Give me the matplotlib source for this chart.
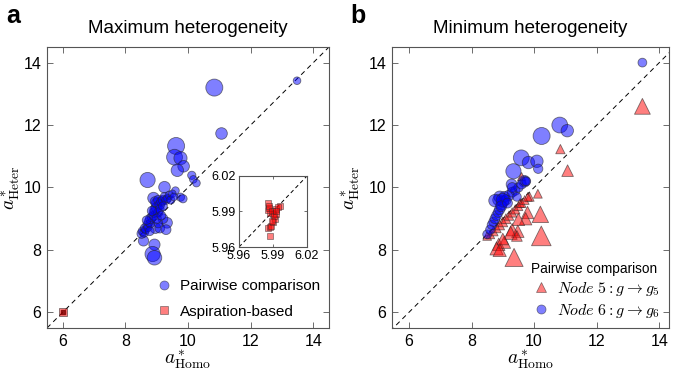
import numpy as np
import matplotlib
matplotlib.use("Agg")
import matplotlib.pyplot as plt
from matplotlib.lines import Line2D

plt.rcParams['font.family'] = ['Liberation Sans', 'DejaVu Sans']
plt.rcParams['mathtext.fontset'] = 'cm'

# ---------------- Data ----------------
# Panel a: maximum heterogeneity, pairwise comparison (x, y, marker area)
a_pc_x = [13.48, 10.84, 11.07, 9.62, 9.57, 9.76, 9.86, 9.66, 10.12, 10.17, 10.27,
          8.71, 9.25, 9.60, 9.76, 9.84, 8.90, 9.33, 9.20, 8.96, 9.10, 8.58, 8.93,
          8.87, 8.93, 9.30, 9.05,
          8.52, 8.55, 8.60, 8.62, 8.65, 8.70, 8.72, 8.75, 8.80, 8.80, 8.85, 8.90,
          8.92, 8.95, 9.00, 9.00, 8.95, 9.05, 9.10, 9.15, 9.20, 9.25, 9.30, 9.35,
          9.40, 9.45, 9.50, 9.55, 9.05, 9.10, 9.20, 9.00, 9.15, 8.85, 8.68, 8.78]
a_pc_y = [13.42, 13.20, 11.73, 11.33, 10.97, 10.94, 10.68, 10.55, 10.39, 10.26, 10.14,
          10.24, 10.01, 9.90, 9.69, 9.64, 9.66, 8.87, 9.00, 8.70, 8.70, 8.29, 8.17,
          7.87, 7.75, 8.65, 8.85,
          8.52, 8.60, 8.55, 8.70, 8.65, 8.80, 8.72, 8.90, 8.85, 9.00, 9.05, 9.10,
          9.20, 9.30, 9.35, 9.50, 9.55, 9.60, 9.45, 9.55, 9.60, 9.70, 9.60, 9.65,
          9.75, 9.60, 9.80, 9.70, 9.20, 9.30, 9.40, 9.00, 9.10, 9.25, 8.95, 8.60]
a_pc_s = [30, 150, 70, 150, 130, 90, 70, 80, 35, 30, 30,
          120, 70, 30, 35, 35, 70, 60, 50, 60, 50, 55, 65,
          120, 110, 50, 40,
          45, 40, 40, 40, 35, 40, 35, 45, 40, 50, 45, 45,
          50, 55, 60, 55, 50, 45, 50, 45, 45, 40, 40, 35,
          35, 35, 30, 30, 45, 40, 40, 45, 40, 45, 40, 40]

# Panel a: aspiration-based (inset values)
a_ab_x = [5.987, 5.986, 5.987, 5.9885, 5.990, 5.9915, 5.993, 5.990, 5.987, 5.9855,
          5.9865, 5.993, 5.996, 5.9945, 5.986, 5.9865, 5.9895, 5.9905, 5.9925, 5.9895]
a_ab_y = [5.969, 5.976, 5.977, 5.978, 5.981, 5.984, 5.988, 5.988, 5.989, 5.991,
          5.993, 5.992, 5.995, 5.994, 5.997, 5.995, 5.990, 5.986, 5.990, 5.982]

# Panel b: minimum heterogeneity
b_n6_x = [13.46, 10.24, 10.82, 11.06, 9.59, 9.82, 10.09, 10.13, 9.34, 9.69, 9.28,
          8.50, 8.60, 8.65, 8.70, 8.75, 8.80, 8.85, 8.90, 8.95, 9.00, 8.85, 8.90,
          9.05, 9.10, 9.20, 9.30, 9.40, 9.50, 9.60, 9.70, 9.75, 8.75, 9.30, 9.00,
          8.95, 9.15, 9.45]
b_n6_y = [14.00, 11.65, 12.00, 11.82, 10.95, 10.80, 10.84, 10.60, 10.52, 10.20, 10.10,
          8.50, 8.65, 8.80, 8.90, 9.00, 9.10, 9.20, 9.30, 9.45, 9.55, 9.60, 9.70,
          9.70, 9.60, 9.75, 9.85, 9.90, 10.00, 10.10, 10.20, 10.20, 9.58, 10.00, 9.60,
          9.40, 9.50, 9.70]
b_n6_s = [40, 150, 130, 80, 130, 80, 80, 45, 120, 70, 60,
          40, 45, 45, 45, 50, 50, 50, 55, 60, 70, 60, 70,
          60, 55, 55, 50, 45, 45, 45, 45, 40, 80, 50, 90,
          60, 50, 40]

b_n5_x = [13.46, 10.84, 11.07, 10.12, 9.86, 10.20, 9.79, 9.73, 10.23, 9.36, 9.48,
          9.30, 9.50, 8.87, 9.05, 8.80, 9.55, 9.60,
          8.50, 8.60, 8.70, 8.80, 8.90, 9.00, 9.10, 9.20, 9.30, 9.40, 9.50, 9.60,
          9.70, 9.80, 8.90, 9.25, 9.45, 9.00]
b_n5_y = [12.60, 11.23, 10.54, 9.80, 9.70, 9.14, 9.20, 9.00, 8.45, 7.76, 8.60,
          8.65, 8.98, 8.18, 8.25, 8.05, 9.50, 10.35,
          8.45, 8.50, 8.60, 8.70, 8.80, 8.90, 9.00, 9.10, 9.20, 9.30, 9.40, 9.50,
          9.60, 9.70, 8.00, 8.55, 8.45, 8.35]
b_n5_s = [130, 45, 70, 40, 40, 140, 80, 80, 200, 170, 80,
          80, 80, 80, 80, 90, 40, 35,
          40, 40, 45, 45, 50, 50, 50, 45, 45, 45, 40, 40,
          40, 40, 90, 90, 60, 70]

ticks = [6, 8, 10, 12, 14]

# ---------------- Figure ----------------
W, H = 675, 374
fig = plt.figure(figsize=(W / 100, H / 100), dpi=100)

blue = (0.0, 0.0, 1.0, 0.5)
red = (1.0, 0.0, 0.0, 0.5)
edge = (0.15, 0.15, 0.15, 0.6)


def frac(x0, y0, x1, y1):
    return [x0 / W, 1 - y1 / H, (x1 - x0) / W, (y1 - y0) / H]


def style(ax, xl, yl, tks, ls=11.5):
    ax.set_xlim(*xl)
    ax.set_ylim(*yl)
    ax.set_xticks(tks)
    ax.set_yticks(tks)
    ax.tick_params(direction='in', top=True, right=True, length=4,
                   width=0.6, color='#555555', labelsize=ls, pad=4)
    for sp in ax.spines.values():
        sp.set_color('#555555')
        sp.set_linewidth(0.8)


# Panel a
axa = fig.add_axes(frac(47, 47, 329, 328))
style(axa, (5.5, 14.5), (5.5, 14.5), ticks)
axa.plot([5.5, 14.5], [5.5, 14.5], '--', color='black', lw=0.7, dashes=(5, 4))
axa.scatter(a_pc_x, a_pc_y, s=a_pc_s, color=blue, edgecolors=edge, linewidths=0.6,
            zorder=3)
axa.scatter([6.0], [6.0], s=30, marker='s', color=red, edgecolors=edge,
            linewidths=0.6, zorder=3)
axa.scatter([6.0], [6.0], s=12, marker='s', color=(0.5, 0, 0, 0.8), zorder=3)
ha = [Line2D([], [], ls='none', marker='o', ms=6.5, mfc=blue, mec=edge, mew=0.5,
             label='Pairwise comparison'),
      Line2D([], [], ls='none', marker='s', ms=6, mfc=red, mec=edge, mew=0.5,
             label='Aspiration-based')]
axa.set_title('Maximum heterogeneity', fontsize=13.5, pad=10)
axa.set_xlabel(r'$a^*_{\rm Homo}$', fontsize=14, labelpad=0)
axa.set_ylabel(r'$a^*_{\rm Heter}$', fontsize=14)
axa.yaxis.set_label_coords(-0.085, 0.5)
axa.legend(handles=ha, loc='lower right', frameon=False, fontsize=11, handletextpad=0.4,
           borderaxespad=0.2, labelspacing=0.75, handlelength=1.2,
           bbox_to_anchor=(1.0, 0.0))
fig.text(6 / W, 1 - 16 / H, 'a', fontsize=18, fontweight='bold', va='center')

# inset
axi = fig.add_axes(frac(239, 176, 307, 247))
style(axi, (5.96, 6.02), (5.96, 6.02), [5.96, 5.99, 6.02], ls=9)
axi.tick_params(length=2, pad=2)
axi.set_xticklabels(['5.96', '5.99', '6.02'])
axi.set_yticklabels(['5.96', '5.99', '6.02'])
axi.plot([5.96, 6.02], [5.96, 6.02], '--', color='black', lw=0.7, dashes=(4, 3))
axi.scatter(a_ab_x, a_ab_y, s=20, marker='s', color=red, edgecolors=edge,
            linewidths=0.5, zorder=3)

# Panel b
axb = fig.add_axes(frac(392, 47, 669, 328))
style(axb, (5.46, 14.31), (5.5, 14.5), ticks)
axb.plot([5.0, 15.0], [5.0, 15.0], '--', color='black', lw=0.7, dashes=(5, 4))
axb.scatter(b_n5_x, b_n5_y, s=b_n5_s, marker='^', color=red, edgecolors=edge,
            linewidths=0.6, zorder=3)
axb.scatter(b_n6_x, b_n6_y, s=b_n6_s, marker='o', color=blue, edgecolors=edge,
            linewidths=0.6, zorder=4)
hb = [Line2D([], [], ls='none', marker='^', ms=7, mfc=red, mec=edge, mew=0.5,
             label=r'$Node\ 5: g \rightarrow g_5$'),
      Line2D([], [], ls='none', marker='o', ms=6.5, mfc=blue, mec=edge, mew=0.5,
             label=r'$Node\ 6: g \rightarrow g_6$')]
axb.set_title('Minimum heterogeneity', fontsize=13.5, pad=10)
axb.set_xlabel(r'$a^*_{\rm Homo}$', fontsize=14, labelpad=0)
axb.set_ylabel(r'$a^*_{\rm Heter}$', fontsize=14)
axb.yaxis.set_label_coords(-0.105, 0.5)
lg = axb.legend(handles=hb, loc='lower right', frameon=False, fontsize=11.5,
                title='Pairwise comparison', title_fontsize=9.8, handletextpad=0.4,
                borderaxespad=0.2, labelspacing=0.25, handlelength=1.2,
                bbox_to_anchor=(1.0, -0.005))
lg._legend_box.align = 'left'
fig.text(350 / W, 1 - 16 / H, 'b', fontsize=18, fontweight='bold', va='center')

fig.savefig('out.png', dpi=100)
